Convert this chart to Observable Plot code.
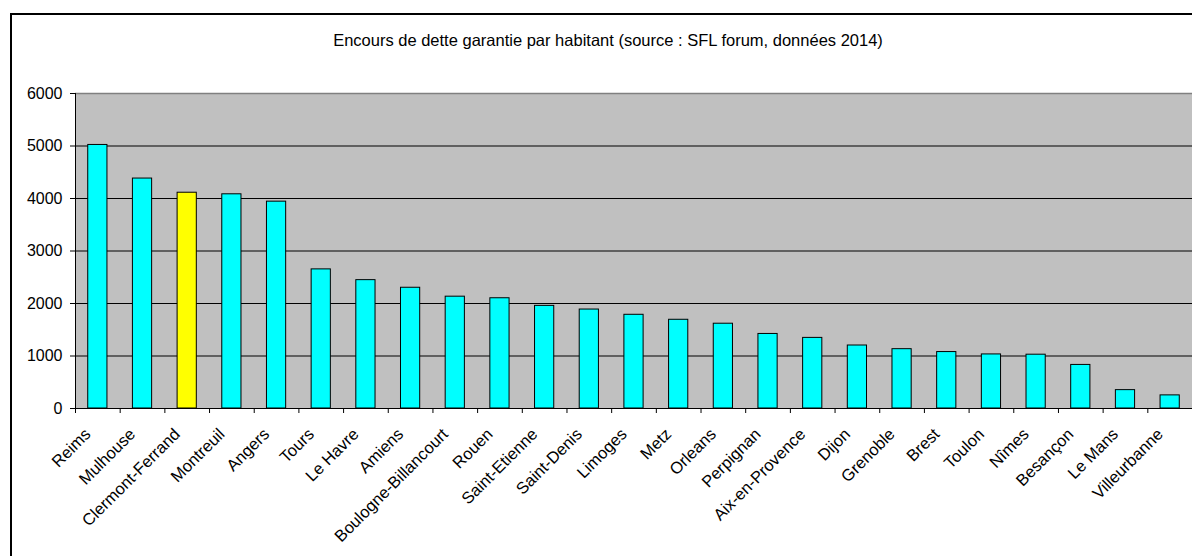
<!DOCTYPE html>
<html>
<head>
<meta charset="utf-8">
<script src="https://cdn.jsdelivr.net/npm/d3@7"></script>
<script src="https://cdn.jsdelivr.net/npm/@observablehq/plot@0.6"></script>
<style>
  html, body { margin: 0; padding: 0; background: #fff; overflow: hidden; }
  #wrap { position: relative; width: 1192px; height: 556px; }
  #frame { position: absolute; left: 10px; top: 13px; width: 1300px; height: 700px; border: 2px solid #000; pointer-events: none; }
  #title { position: absolute; left: 0; top: 31px; width: 1216px; text-align: center; font-family: "Liberation Sans", Arial, sans-serif; font-size: 16.5px; color: #000; }
  #chart { position: absolute; left: 0; top: 0; }
</style>
</head>
<body>
<div id="wrap">
  <div id="chart"></div>
  <div id="frame"></div>
  <div id="title">Encours de dette garantie par habitant (source : SFL forum, données 2014)</div>
</div>
<script>
const cities = ["Reims", "Mulhouse", "Clermont-Ferrand", "Montreuil", "Angers", "Tours", "Le Havre", "Amiens",
  "Boulogne-Billancourt", "Rouen", "Saint-Etienne", "Saint-Denis", "Limoges", "Metz", "Orleans", "Perpignan",
  "Aix-en-Provence", "Dijon", "Grenoble", "Brest", "Toulon", "Nîmes", "Besançon", "Le Mans", "Villeurbanne"];
const values = [5020, 4380, 4110, 4080, 3940, 2650, 2445, 2300, 2130, 2100, 1955, 1885, 1785, 1690, 1615, 1420,
  1345, 1200, 1130, 1075, 1030, 1025, 830, 350, 250];
const highlighted = "Clermont-Ferrand";
const yTicks = [0, 1000, 2000, 3000, 4000, 5000, 6000];

const data = cities.map((c, i) => ({city: c, value: values[i], fill: c === highlighted ? "#FFFF00" : "#00FFFF"}));

const W = 1192, H = 556, mL = 75, mR = 0, mT = 93, mB = 148;
const step = (W - mL - mR) / cities.length;
const plotH = H - mT - mB;

const chart = Plot.plot({
  width: W, height: H,
  marginLeft: mL, marginRight: mR, marginTop: mT, marginBottom: mB,
  style: {background: "transparent", fontFamily: "'Liberation Sans', Arial, sans-serif", fontSize: "16px", color: "#000"},
  x: {domain: cities, paddingInner: 0.57, paddingOuter: 0.285, round: false, axis: null},
  y: {domain: [0, 6000], axis: null},
  color: {type: "identity"},
  marks: [
    Plot.frame({fill: "#C0C0C0", stroke: "none"}),
    Plot.ruleY(yTicks.filter(v => v < 6000), {y: d => d, stroke: "#000", strokeWidth: 1}),
    Plot.ruleY(yTicks.filter(v => v === 6000), {y: d => d, stroke: "#808080", strokeWidth: 1.5}),
    Plot.ruleX(cities.slice(0, 1), {x: d => d, dx: -step / 2, stroke: "#000", insetBottom: -5}),
    Plot.ruleX(cities, {x: d => d, dx: -step / 2, stroke: "#000", insetTop: plotH, insetBottom: -5}),
    Plot.barY(data, {x: "city", y: "value", fill: "fill", stroke: "#000", strokeWidth: 1}),
    Plot.axisY({ticks: yTicks, tickSize: 5, tickPadding: 8, tickFormat: d => String(d), label: null, fontSize: 16, stroke: "#000"}),
    Plot.text(cities, {x: d => d, y: 0, text: d => d, rotate: -45, textAnchor: "end", dx: -10, dy: 23, fontSize: 16.5, fill: "#000"})
  ]
});
document.getElementById("chart").appendChild(chart);
</script>
</body>
</html>
